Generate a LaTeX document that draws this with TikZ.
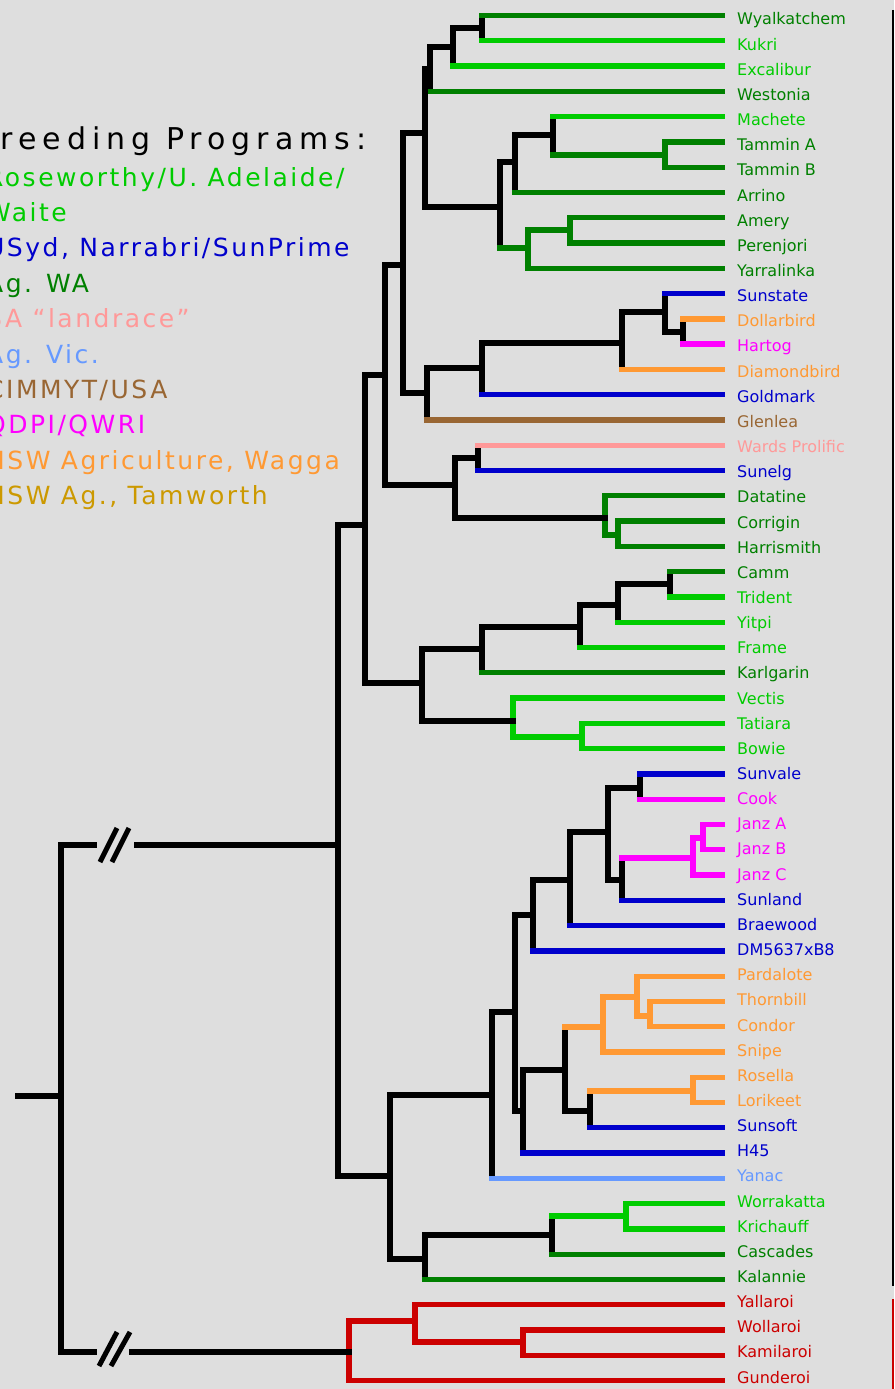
\documentclass[tikz,border=0pt]{standalone}
\usepackage{fontspec}
\setmainfont{DejaVu Sans}
\newfontfamily\legA{DejaVu Sans}[LetterSpace=20]
\newfontfamily\legB{DejaVu Sans}[LetterSpace=10]
\definecolor{cbg}{RGB}{222,222,222}
\definecolor{cgB}{RGB}{0,204,0}
\definecolor{cgD}{RGB}{0,128,0}
\definecolor{cbl}{RGB}{0,0,204}
\definecolor{cor}{RGB}{255,153,51}
\definecolor{cmg}{RGB}{255,0,255}
\definecolor{cpk}{RGB}{255,153,153}
\definecolor{cbr}{RGB}{153,102,51}
\definecolor{clb}{RGB}{102,153,255}
\definecolor{cgd}{RGB}{204,153,0}
\definecolor{crd}{RGB}{204,0,0}
\tikzset{
  tree/.style={line width=5.3pt, line cap=rect},
  slash/.style={line width=5pt},
  leaflabel/.style={anchor=base west, inner sep=0pt, font=\fontsize{16}{19}\selectfont},
  legline/.style={anchor=base west, inner sep=0pt, font=\legB\fontsize{25}{30}\selectfont},
  legtitle/.style={anchor=base west, inner sep=0pt, font=\legA\fontsize{30}{36}\selectfont},
}
% #1 horizontal colour, #2 vertical colour, #3 parent, #4 child
\newcommand\tbranch[4]{%
  \draw[tree,#2] (#4 -| #3) -- (#3);
  \draw[tree,#1] (#4) -- (#4 -| #3);
}
\begin{document}
\begin{tikzpicture}[x=1pt,y=-1pt]
\useasboundingbox (0,0) rectangle (894,1389);
\fill[cbg] (0,0) rectangle (894,1389);
\clip (0,0) rectangle (894,1389);

% leaf ends
\foreach \i in {0,...,54} \coordinate (L\i) at (722.5, {15.5+25.28*\i});

% internal nodes
\coordinate (n1) at (482,28);
\coordinate (n2) at (453,47);
\coordinate (n3) at (430,69);
\coordinate (n4) at (665,155);
\coordinate (n5) at (553,135);
\coordinate (n6) at (515,162);
\coordinate (n7) at (570,230);
\coordinate (n8) at (528,248);
\coordinate (n9) at (500,207);
\coordinate (n10) at (425,133);
\coordinate (n11) at (683,332);
\coordinate (n12) at (665,312);
\coordinate (n13) at (622,343);
\coordinate (n14) at (482,368);
\coordinate (n15) at (427,393);
\coordinate (n16) at (403,265);
\coordinate (n17) at (478,458);
\coordinate (n18) at (618,535);
\coordinate (n19) at (605,518);
\coordinate (n20) at (455,485);
\coordinate (n21) at (385,375);
\coordinate (n22) at (670,584);
\coordinate (n23) at (618,605);
\coordinate (n24) at (580,627);
\coordinate (n25) at (482,649);
\coordinate (n26) at (582,737);
\coordinate (n27) at (513,721);
\coordinate (n28) at (422,683);
\coordinate (n29) at (365,525);
\coordinate (n30) at (640,788);
\coordinate (n31) at (703,838);
\coordinate (n32) at (693,858);
\coordinate (n33) at (622,880);
\coordinate (n34) at (608,832);
\coordinate (n35) at (570,880);
\coordinate (n36) at (533,915);
\coordinate (n37) at (650,1016);
\coordinate (n38) at (637,997);
\coordinate (n39) at (603,1027);
\coordinate (n40) at (693,1091);
\coordinate (n41) at (590,1111);
\coordinate (n42) at (565,1070);
\coordinate (n43) at (523,1111);
\coordinate (n44) at (515,1012);
\coordinate (n45) at (492,1095);
\coordinate (n46) at (626,1216);
\coordinate (n47) at (552,1235);
\coordinate (n48) at (425,1259);
\coordinate (n49) at (390,1176);
\coordinate (n50) at (338,845);
\coordinate (n51) at (523,1342);
\coordinate (n52) at (415,1321);
\coordinate (n53) at (349,1352);
\coordinate (R) at (61,1096);
\coordinate (stub) at (17.6,1096);
\coordinate (bU1) at (94.4,845);
\coordinate (bU2) at (136.6,845);
\coordinate (bL1) at (94.4,1352);
\coordinate (bL2) at (131.6,1352);

% upper clade
\tbranch{cgD}{black}{n1}{L0}
\tbranch{cgB}{black}{n1}{L1}
\tbranch{black}{black}{n2}{n1}
\tbranch{cgB}{black}{n2}{L2}
\tbranch{black}{black}{n3}{n2}
\tbranch{cgD}{black}{n3}{L3}
\tbranch{cgD}{cgD}{n4}{L5}
\tbranch{cgD}{cgD}{n4}{L6}
\tbranch{cgB}{black}{n5}{L4}
\tbranch{cgD}{black}{n5}{n4}
\tbranch{black}{black}{n6}{n5}
\tbranch{cgD}{black}{n6}{L7}
\tbranch{cgD}{cgD}{n7}{L8}
\tbranch{cgD}{cgD}{n7}{L9}
\tbranch{cgD}{cgD}{n8}{n7}
\tbranch{cgD}{cgD}{n8}{L10}
\tbranch{black}{black}{n9}{n6}
\tbranch{cgD}{black}{n9}{n8}
\tbranch{black}{black}{n10}{n3}
\tbranch{black}{black}{n10}{n9}
\tbranch{cor}{black}{n11}{L12}
\tbranch{cmg}{black}{n11}{L13}
\tbranch{cbl}{black}{n12}{L11}
\tbranch{black}{black}{n12}{n11}
\tbranch{black}{black}{n13}{n12}
\tbranch{cor}{black}{n13}{L14}
\tbranch{black}{black}{n14}{n13}
\tbranch{cbl}{black}{n14}{L15}
\tbranch{black}{black}{n15}{n14}
\tbranch{cbr}{black}{n15}{L16}
\tbranch{black}{black}{n16}{n10}
\tbranch{black}{black}{n16}{n15}
\tbranch{cpk}{black}{n17}{L17}
\tbranch{cbl}{black}{n17}{L18}
\tbranch{cgD}{cgD}{n18}{L20}
\tbranch{cgD}{cgD}{n18}{L21}
\tbranch{cgD}{cgD}{n19}{L19}
\tbranch{cgD}{cgD}{n19}{n18}
\tbranch{black}{black}{n20}{n17}
\tbranch{black}{black}{n20}{n19}
\tbranch{black}{black}{n21}{n16}
\tbranch{black}{black}{n21}{n20}
\tbranch{cgD}{black}{n22}{L22}
\tbranch{cgB}{black}{n22}{L23}
\tbranch{black}{black}{n23}{n22}
\tbranch{cgB}{black}{n23}{L24}
\tbranch{black}{black}{n24}{n23}
\tbranch{cgB}{black}{n24}{L25}
\tbranch{black}{black}{n25}{n24}
\tbranch{cgD}{black}{n25}{L26}
\tbranch{cgB}{cgB}{n26}{L28}
\tbranch{cgB}{cgB}{n26}{L29}
\tbranch{cgB}{cgB}{n27}{L27}
\tbranch{cgB}{cgB}{n27}{n26}
\tbranch{black}{black}{n28}{n25}
\tbranch{black}{black}{n28}{n27}
\tbranch{black}{black}{n29}{n21}
\tbranch{black}{black}{n29}{n28}
% lower clade
\tbranch{cbl}{black}{n30}{L30}
\tbranch{cmg}{black}{n30}{L31}
\tbranch{cmg}{cmg}{n31}{L32}
\tbranch{cmg}{cmg}{n31}{L33}
\tbranch{cmg}{cmg}{n32}{n31}
\tbranch{cmg}{cmg}{n32}{L34}
\tbranch{cmg}{black}{n33}{n32}
\tbranch{cbl}{black}{n33}{L35}
\tbranch{black}{black}{n34}{n30}
\tbranch{black}{black}{n34}{n33}
\tbranch{black}{black}{n35}{n34}
\tbranch{cbl}{black}{n35}{L36}
\tbranch{black}{black}{n36}{n35}
\tbranch{cbl}{black}{n36}{L37}
\tbranch{cor}{cor}{n37}{L39}
\tbranch{cor}{cor}{n37}{L40}
\tbranch{cor}{cor}{n38}{L38}
\tbranch{cor}{cor}{n38}{n37}
\tbranch{cor}{cor}{n39}{n38}
\tbranch{cor}{cor}{n39}{L41}
\tbranch{cor}{cor}{n40}{L42}
\tbranch{cor}{cor}{n40}{L43}
\tbranch{cor}{black}{n41}{n40}
\tbranch{cbl}{black}{n41}{L44}
\tbranch{cor}{black}{n42}{n39}
\tbranch{black}{black}{n42}{n41}
\tbranch{black}{black}{n43}{n42}
\tbranch{cbl}{black}{n43}{L45}
\tbranch{black}{black}{n44}{n36}
\tbranch{black}{black}{n44}{n43}
\tbranch{black}{black}{n45}{n44}
\tbranch{clb}{black}{n45}{L46}
\tbranch{cgB}{cgB}{n46}{L47}
\tbranch{cgB}{cgB}{n46}{L48}
\tbranch{cgB}{black}{n47}{n46}
\tbranch{cgD}{black}{n47}{L49}
\tbranch{black}{black}{n48}{n47}
\tbranch{cgD}{black}{n48}{L50}
\tbranch{black}{black}{n49}{n45}
\tbranch{black}{black}{n49}{n48}
\tbranch{black}{black}{n50}{n29}
\tbranch{black}{black}{n50}{n49}
% red clade
\tbranch{crd}{crd}{n51}{L52}
\tbranch{crd}{crd}{n51}{L53}
\tbranch{crd}{crd}{n52}{L51}
\tbranch{crd}{crd}{n52}{n51}
\tbranch{crd}{crd}{n53}{n52}
\tbranch{crd}{crd}{n53}{L54}

% root with breaks
\draw[tree] (stub) -- (R);
\draw[tree] (R) -- (R |- n50);
\draw[tree] (R) -- (R |- n53);
\draw[tree] (R |- n50) -- (bU1);
\draw[tree] (bU2) -- (n50);
\draw[tree] (R |- n53) -- (bL1);
\draw[tree] (bL2) -- (n53);
\draw[slash] (100,862) -- (117,828);
\draw[slash] (112,862) -- (129,828);
\draw[slash] (99,1366) -- (117,1332);
\draw[slash] (111,1366) -- (130,1332);

% right edge
\draw[line width=2pt] (893,10) -- (893,1286);
\draw[crd, line width=2pt] (893,1299) -- (893,1389);

% leaf labels
\foreach \i/\nm/\cl in {
 0/Wyalkatchem/cgD, 1/Kukri/cgB, 2/Excalibur/cgB, 3/Westonia/cgD,
 4/Machete/cgB, 5/Tammin A/cgD, 6/Tammin B/cgD, 7/Arrino/cgD,
 8/Amery/cgD, 9/Perenjori/cgD, 10/Yarralinka/cgD, 11/Sunstate/cbl,
 12/Dollarbird/cor, 13/Hartog/cmg, 14/Diamondbird/cor, 15/Goldmark/cbl,
 16/Glenlea/cbr, 17/Wards Prolific/cpk, 18/Sunelg/cbl, 19/Datatine/cgD,
 20/Corrigin/cgD, 21/Harrismith/cgD, 22/Camm/cgD, 23/Trident/cgB,
 24/Yitpi/cgB, 25/Frame/cgB, 26/Karlgarin/cgD, 27/Vectis/cgB,
 28/Tatiara/cgB, 29/Bowie/cgB, 30/Sunvale/cbl, 31/Cook/cmg,
 32/Janz A/cmg, 33/Janz B/cmg, 34/Janz C/cmg, 35/Sunland/cbl,
 36/Braewood/cbl, 37/DM5637xB8/cbl, 38/Pardalote/cor, 39/Thornbill/cor,
 40/Condor/cor, 41/Snipe/cor, 42/Rosella/cor, 43/Lorikeet/cor,
 44/Sunsoft/cbl, 45/H45/cbl, 46/Yanac/clb, 47/Worrakatta/cgB,
 48/Krichauff/cgB, 49/Cascades/cgD, 50/Kalannie/cgD, 51/Yallaroi/crd,
 52/Wollaroi/crd, 53/Kamilaroi/crd, 54/Gunderoi/crd}
 \node[leaflabel, text=\cl] (T\i) at (737, {25+25.15*\i}) {\nm};

% legend
\node[legtitle] (lg0) at (-26,149) {Breeding Programs:};
\node[legline, text=cgB] (lg1) at (-14,186) {Roseworthy/U. Adelaide/};
\node[legline, text=cgB] (lg2) at (-14,221.4) {Waite};
\node[legline, text=cbl] (lg3) at (-14,256.8) {USyd, Narrabri/SunPrime};
\node[legline, text=cgD] (lg4) at (-14,292.2) {Ag. WA};
\node[legline, text=cpk] (lg5) at (-14,327.6) {SA “landrace”};
\node[legline, text=clb] (lg6) at (-14,363) {Ag. Vic.};
\node[legline, text=cbr] (lg7) at (-14,398.4) {CIMMYT/USA};
\node[legline, text=cmg] (lg8) at (-14,433.8) {QDPI/QWRI};
\node[legline, text=cor] (lg9) at (-14,469.2) {NSW Agriculture, Wagga};
\node[legline, text=cgd] (lg10) at (-14,504.6) {NSW Ag., Tamworth};
\end{tikzpicture}
\end{document}
